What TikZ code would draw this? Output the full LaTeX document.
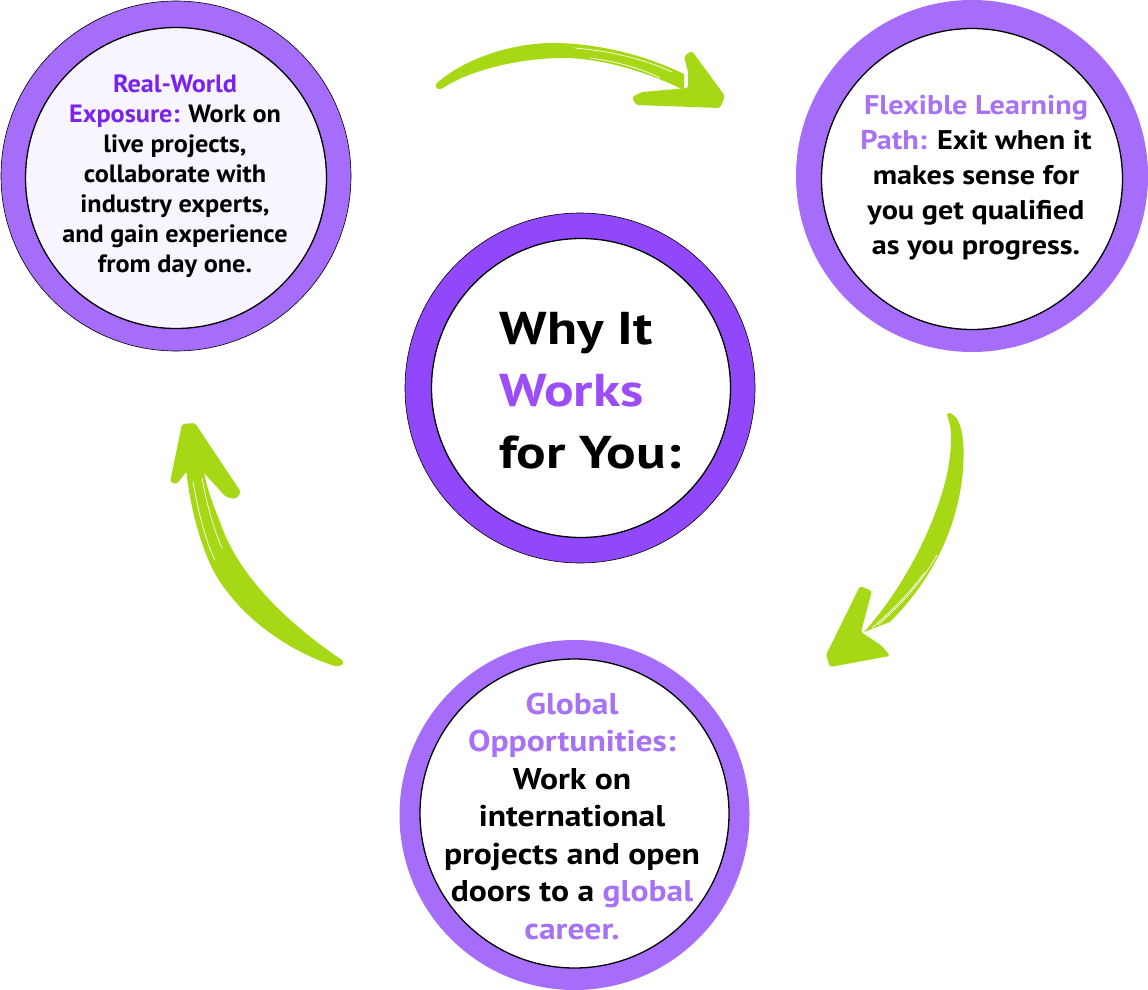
\documentclass[tikz,border=0pt]{standalone}
\usepackage{fontspec}
\setmainfont{PT Sans}
\newfontfamily\fontA{PT Sans}[FakeStretch=1.05]
\newfontfamily\fontB{PT Sans}[FakeStretch=1.12]
\newfontfamily\fontC{PT Sans}[FakeStretch=1.2]
\definecolor{ringlight}{HTML}{A66DFA}
\definecolor{ringdark}{HTML}{9148FB}
\definecolor{headdark}{HTML}{7A22EE}
\definecolor{headlight}{HTML}{A872F6}
\definecolor{worksc}{HTML}{9C4DF7}
\definecolor{pale}{HTML}{F8F5FE}
\definecolor{brush}{HTML}{A6D816}
\tikzset{
  inner/.style={circle, draw=black, line width=1.3pt, inner sep=0pt},
  txt/.style={align=center, text=black},
  arrowfill/.style={fill=brush, rounded corners=2.5pt},
  streak/.style={draw=white, line width=0.7pt, line cap=round}
}
\begin{document}
\begin{tikzpicture}[x=1pt,y=-1pt]
\useasboundingbox (0,0) rectangle (1148,990);

% --- top-left circle
\fill[ringlight, draw=black, line width=0.6pt] (176,176) circle (175);
\node[inner, fill=pale, minimum size=301pt] (tl) at (176,178) {};
\node[txt, font=\fontA\bfseries\fontsize{25}{30}\selectfont] (tltext) at (175,176)
 {\textcolor{headdark}{Real-World}\\ \textcolor{headdark}{Exposure:} Work on\\ live projects,\\ collaborate with\\ industry experts,\\ and gain experience\\ from day one.};

% --- top-right circle
\fill[ringlight] (972,176) circle (176);
\node[inner, fill=white, minimum size=301pt] (tr) at (972,179) {};
\node[txt, font=\fontB\bfseries\fontsize{27}{35}\selectfont] (trtext) at (976,178)
 {\textcolor{headlight}{Flexible Learning}\\ \textcolor{headlight}{Path:} Exit when it\\ makes sense for\\ you get qualified\\ as you progress.};

% --- centre circle
\fill[ringdark, draw=black, line width=0.6pt] (580,388) circle (175);
\node[inner, fill=white, minimum size=299pt] (ctr) at (581,388) {};
\node[align=left, anchor=west, font=\fontC\bfseries\fontsize{46}{62}\selectfont] (ctrtext) at (496,391)
 {Why It\\ \textcolor{worksc}{Works}\\ for You:};

% --- bottom circle
\fill[ringlight] (574.5,815) circle (175);
\node[inner, fill=white, minimum size=309pt] (bt) at (574.5,813.5) {};
\node[txt, font=\fontB\bfseries\fontsize{30}{37.5}\selectfont] (bttext) at (572,816)
 {\textcolor{headlight}{Global}\\ \textcolor{headlight}{Opportunities:}\\ Work on\\ international\\ projects and open\\ doors to a \textcolor{headlight}{global}\\ \textcolor{headlight}{career.}};

% --- arrow top (tl -> tr)
\fill[brush] (438,82) .. controls (470,55) and (520,42) .. (557,43)
  .. controls (600,44) and (645,55) .. (684,74)
  -- (684,90) .. controls (645,71) and (600,58) .. (563,58)
  .. controls (520,58) and (470,70) .. (443,88)
  .. controls (437,91) and (433,87) .. (438,82) -- cycle;
\fill[arrowfill] (684,56) -- (692,51) -- (725,96) -- (720,108) -- (636,105)
  -- (632,97) -- (642,92) -- (688,88) -- (688,72) -- cycle;
\draw[streak] (575,48) .. controls (620,52) and (650,62) .. (672,72);
\draw[streak] (590,58) .. controls (620,62) and (645,70) .. (660,78);

% --- arrow right (tr -> bt)
\fill[brush] (950,413) .. controls (962,418) and (965,440) .. (963,470)
  .. controls (958,530) and (930,582) .. (890,622)
  -- (864,632) .. controls (900,592) and (935,530) .. (948,470)
  .. controls (952,445) and (952,428) .. (948,418)
  .. controls (946,414) and (948,412) .. (950,413) -- cycle;
\fill[arrowfill] (860,586) -- (872,591) -- (861,632) -- (882,646) -- (890,656)
  -- (830,667) -- (826,655) -- cycle;
\draw[streak] (937,555) .. controls (920,585) and (900,605) .. (878,625);
\draw[streak] (925,572) .. controls (910,592) and (895,608) .. (872,628);

% --- arrow left (bt -> tl)
\fill[brush] (342,660) .. controls (300,632) and (240,582) .. (220,522)
  .. controls (210,497) and (205,482) .. (203,465)
  -- (186,468) .. controls (189,500) and (198,540) .. (214,572)
  .. controls (240,618) and (290,652) .. (335,666)
  .. controls (342,667) and (345,663) .. (342,660) -- cycle;
\fill[arrowfill] (182,424) -- (195,423) -- (241,492) -- (236,499) -- (226,497)
  -- (203,472) -- (186,472) -- (177,484) -- (170,482) -- cycle;
\draw[streak] (193,482) .. controls (198,510) and (205,540) .. (215,560);
\draw[streak] (202,478) .. controls (206,500) and (212,525) .. (222,548);
\end{tikzpicture}
\end{document}
